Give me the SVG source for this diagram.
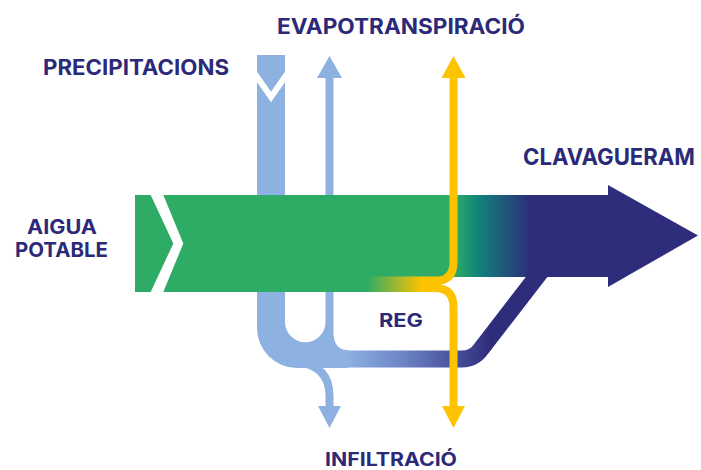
<svg xmlns="http://www.w3.org/2000/svg" width="701" height="470" viewBox="0 0 701 470">
<style>
text{font-family:Inter,"Open Sans","Liberation Sans",sans-serif;font-weight:700;fill:#2c2a78}
.lb{fill:#8db2e2}
.yl{fill:none;stroke:#fdc300;stroke-width:8}
</style>
<defs>
<linearGradient id="gNavy" gradientUnits="userSpaceOnUse" x1="448" y1="0" x2="612" y2="0">
<stop offset="0" stop-color="#2eac66"/>
<stop offset="0.04" stop-color="#2eac66"/>
<stop offset="0.18" stop-color="#12847a"/>
<stop offset="0.5" stop-color="#2e2d7c"/>
<stop offset="1" stop-color="#2e2d7c"/>
</linearGradient>
<linearGradient id="gReg" gradientUnits="userSpaceOnUse" x1="135" y1="0" x2="440" y2="0">
<stop offset="0" stop-color="#2eac66"/>
<stop offset="0.76" stop-color="#2eac66"/>
<stop offset="0.94" stop-color="#fdc300"/>
<stop offset="1" stop-color="#fdc300"/>
</linearGradient>
<linearGradient id="gBand" gradientUnits="userSpaceOnUse" x1="345" y1="0" x2="490" y2="0">
<stop offset="0" stop-color="#8db2e2"/>
<stop offset="0.4" stop-color="#6d84c6"/>
<stop offset="1" stop-color="#2e2d7c"/>
</linearGradient>
</defs>
<g id="connectors">
<path id="band" d="M 300 359 H 462 Q 474 359 481 349 L 542 270" fill="none" stroke="url(#gBand)" stroke-width="17"/>
<path id="infiltracio-blue" d="M 298 362 Q 329.5 366 329.5 396 V 408" fill="none" stroke="#8db2e2" stroke-width="8"/>
<polygon class="lb" points="318,406 341,406 329.5,428"/>
</g>
<g id="precipitacions">
<path class="lb" d="M 257 55 H 285 V 322 A 20.25 20.25 0 0 0 325.5 322 V 76 H 333.5 V 332 Q 333.5 350 348 350 L 348 368 L 297 368 A 40 40 0 0 1 257 328 Z"/>
<polygon class="lb" points="317,78 329.5,56 342,78"/>
<polyline points="255,74 271,97 287,74" fill="none" stroke="#fff" stroke-width="6"/>
<text x="43" y="74.5" font-size="21" textLength="186" lengthAdjust="spacingAndGlyphs">PRECIPITACIONS</text>
</g>
<g id="aigua-potable">
<rect x="135" y="195" width="317" height="82" fill="#2eac66"/>
<rect x="135" y="276.5" width="302" height="15.5" fill="url(#gReg)"/>
<polygon points="150.7,195 163.3,195 183.3,243.5 163.3,292 150.7,292 173.3,243.5" fill="#fff"/>
<text x="62" y="234" font-size="20" text-anchor="middle" textLength="70" lengthAdjust="spacingAndGlyphs">AIGUA</text>
<text x="61.5" y="257" font-size="20" text-anchor="middle" textLength="93" lengthAdjust="spacingAndGlyphs">POTABLE</text>
</g>
<g id="clavegueram">
<rect x="448" y="195" width="164" height="82" fill="url(#gNavy)"/>
<polygon points="608,185 698,235.5 608,287" fill="#2e2d7c"/>
<text x="523" y="165" font-size="23" textLength="172" lengthAdjust="spacingAndGlyphs">CLAVAGUERAM</text>
</g>
<g id="reg">
<path class="yl" d="M 453.5 76 V 262 Q 453.5 281 435 281 H 425"/>
<path class="yl" d="M 425 288 H 435 Q 453.5 288 453.5 307 V 408"/>
<polygon points="441.5,78 453.5,56 465.5,78" fill="#fdc300"/>
<polygon points="442,406 465,406 453.5,428" fill="#fdc300"/>
<text x="379" y="327" font-size="19" textLength="44" lengthAdjust="spacingAndGlyphs">REG</text>
</g>
<g id="evapotranspiracio">
<text x="277" y="33.5" font-size="21" textLength="248" lengthAdjust="spacingAndGlyphs">EVAPOTRANSPIRACIÓ</text>
</g>
<g id="infiltracio">
<text x="325" y="466" font-size="19" textLength="132" lengthAdjust="spacingAndGlyphs">INFILTRACIÓ</text>
</g>
</svg>
